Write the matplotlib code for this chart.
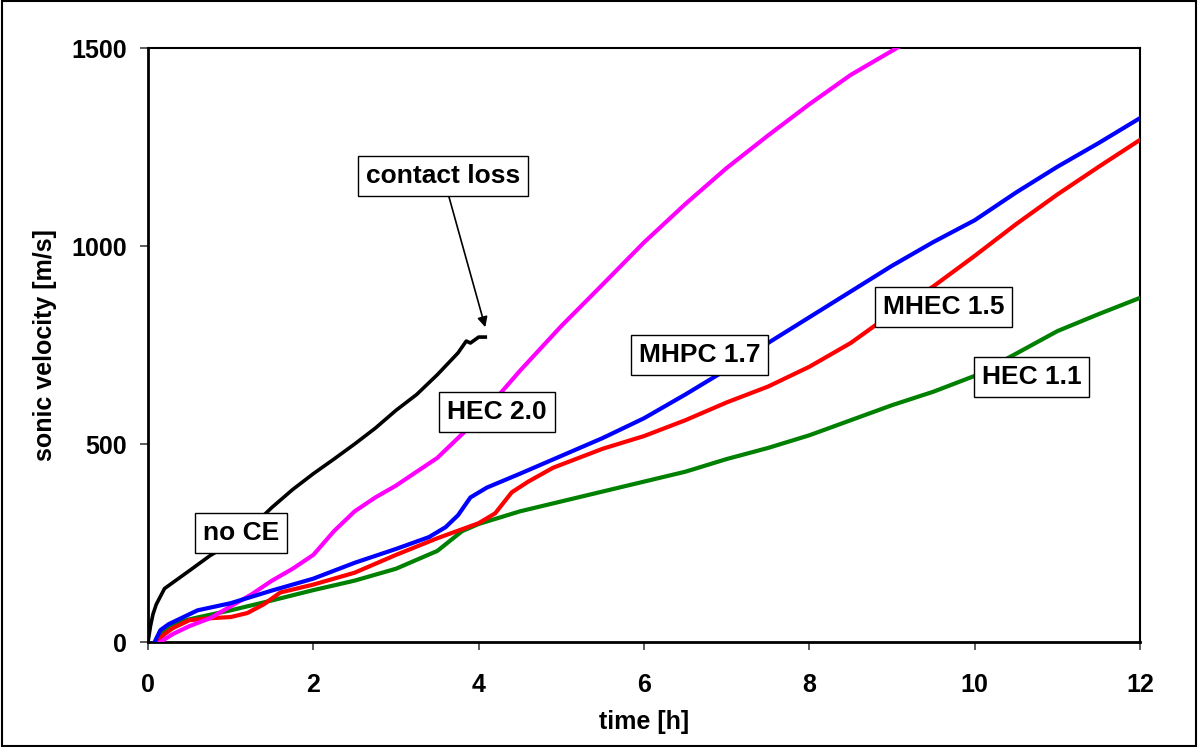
import matplotlib
matplotlib.use("Agg")
import matplotlib.pyplot as plt
from matplotlib.patches import Rectangle

plt.rcParams['font.family'] = ['Liberation Sans', 'DejaVu Sans']
plt.rcParams['font.weight'] = 'bold'

# sonic velocity vs. time for the cellulose ether series
t_noce = [0, 0.03, 0.06, 0.1, 0.15, 0.2, 0.3, 0.5, 0.75, 1.0, 1.25, 1.5, 1.75, 2.0,
          2.25, 2.5, 2.75, 3.0, 3.25, 3.5, 3.75, 3.85, 3.9, 4.0, 4.08]
v_noce = [0, 40, 70, 95, 115, 135, 150, 180, 218, 250, 290, 340, 385, 425,
          462, 500, 540, 585, 625, 675, 730, 760, 755, 770, 770]

t_hec20 = [0.15, 0.3, 0.5, 0.75, 1.0, 1.25, 1.5, 1.75, 2.0, 2.25, 2.5, 2.75, 3.0,
           3.5, 4.0, 4.5, 5.0, 5.5, 6.0, 6.5, 7.0, 7.5, 8.0, 8.5, 9.1]
v_hec20 = [0, 20, 40, 60, 90, 120, 155, 185, 220, 280, 330, 365, 395,
           465, 565, 685, 798, 903, 1009, 1106, 1197, 1279, 1358, 1432, 1505]

t_mhpc = [0.08, 0.15, 0.25, 0.4, 0.6, 1.0, 1.5, 2.0, 2.5, 3.0, 3.4, 3.6, 3.75, 3.9,
          4.1, 4.5, 5.0, 5.5, 6.0, 6.5, 7.0, 7.5, 8.0, 8.5, 9.0, 9.5, 10.0, 10.5,
          11.0, 11.5, 12.0]
v_mhpc = [0, 30, 45, 60, 80, 98, 130, 160, 200, 235, 265, 290, 320, 365,
          390, 425, 470, 515, 565, 625, 688, 755, 820, 885, 950, 1010, 1065, 1135,
          1200, 1260, 1323]

t_mhec = [0.1, 0.2, 0.3, 0.5, 0.75, 1.0, 1.2, 1.4, 1.6, 2.0, 2.5, 3.0, 3.5, 4.0,
          4.2, 4.4, 4.6, 4.9, 5.5, 6.0, 6.5, 7.0, 7.5, 8.0, 8.5, 9.0, 9.5, 10.0,
          10.5, 11.0, 11.5, 12.0]
v_mhec = [0, 20, 35, 55, 60, 63, 73, 95, 125, 145, 175, 220, 262, 300,
          325, 378, 405, 440, 488, 520, 560, 605, 645, 695, 755, 830, 898, 975,
          1055, 1130, 1200, 1268]

t_hec11 = [0.1, 0.15, 0.25, 0.4, 0.6, 1.0, 1.5, 2.0, 2.5, 3.0, 3.5, 3.8, 4.0, 4.5,
           5.0, 5.5, 6.0, 6.5, 7.0, 7.5, 8.0, 8.5, 9.0, 9.5, 10.0, 10.5, 11.0,
           11.5, 12.0]
v_hec11 = [0, 20, 40, 52, 62, 80, 105, 131, 155, 185, 230, 280, 298, 330,
           355, 380, 405, 430, 462, 490, 522, 560, 598, 632, 672, 728, 785,
           828, 869]

x_ticks = [0, 2, 4, 6, 8, 10, 12]
y_ticks = [0, 500, 1000, 1500]

fig = plt.figure(figsize=(11.98, 7.47), dpi=100)
ax = fig.add_axes([148 / 1198, 105 / 747, 992 / 1198, 594 / 747])

ax.plot(t_hec11, v_hec11, color='#008000', lw=3.0, zorder=3)
ax.plot(t_mhec, v_mhec, color='#ff0000', lw=3.0, zorder=3)
ax.plot(t_mhpc, v_mhpc, color='#0000ff', lw=3.0, zorder=4)
ax.plot(t_hec20, v_hec20, color='#ff00ff', lw=3.0, zorder=3)
ax.plot(t_noce, v_noce, color='black', lw=2.6, zorder=5)

ax.set_xlim(0, 12)
ax.set_ylim(0, 1500)
ax.set_xticks(x_ticks)
ax.set_yticks(y_ticks)
ax.tick_params(direction='out', length=6, width=1.2, labelsize=18, color='#404040')
ax.tick_params(axis='x', pad=16)
ax.tick_params(axis='y', pad=9)
for lab in ax.get_xticklabels() + ax.get_yticklabels():
    lab.set_fontweight('bold')

ax.spines['left'].set_linewidth(2)
ax.spines['bottom'].set_linewidth(2)
ax.spines['top'].set_linewidth(1.5)
ax.spines['right'].set_linewidth(1.5)

ax.set_xlabel('time [h]', fontsize=18, fontweight='bold')
ax.set_ylabel('sonic velocity [m/s]', fontsize=18, fontweight='bold')
ax.xaxis.set_label_coords(0.5, -0.115)
ax.yaxis.set_label_coords(-0.092, 0.5)

box = dict(boxstyle='square,pad=0.3', fc='white', ec='black', lw=1.0)
labels = [
    ('no CE', 1.13, 275),
    ('HEC 2.0', 4.22, 580),
    ('MHPC 1.7', 6.67, 725),
    ('MHEC 1.5', 9.62, 845),
    ('HEC 1.1', 10.69, 670),
]
for txt, x, y in labels:
    ax.text(x, y, txt, fontsize=19, fontweight='bold', ha='center', va='center',
            bbox=box, zorder=6)

ax.annotate('contact loss', xy=(4.08, 795), xytext=(3.57, 1177),
            fontsize=19, fontweight='bold', ha='center', va='center', bbox=box,
            arrowprops=dict(arrowstyle='-|>', color='black', lw=1.2,
                            mutation_scale=15, shrinkA=0, shrinkB=0),
            zorder=6)

# frame around the whole chart
fig.patches.append(Rectangle((0.002, 0.002), 0.996, 0.996, transform=fig.transFigure,
                             fill=False, ec='black', lw=1.5))

fig.savefig('out.png', dpi=100)
